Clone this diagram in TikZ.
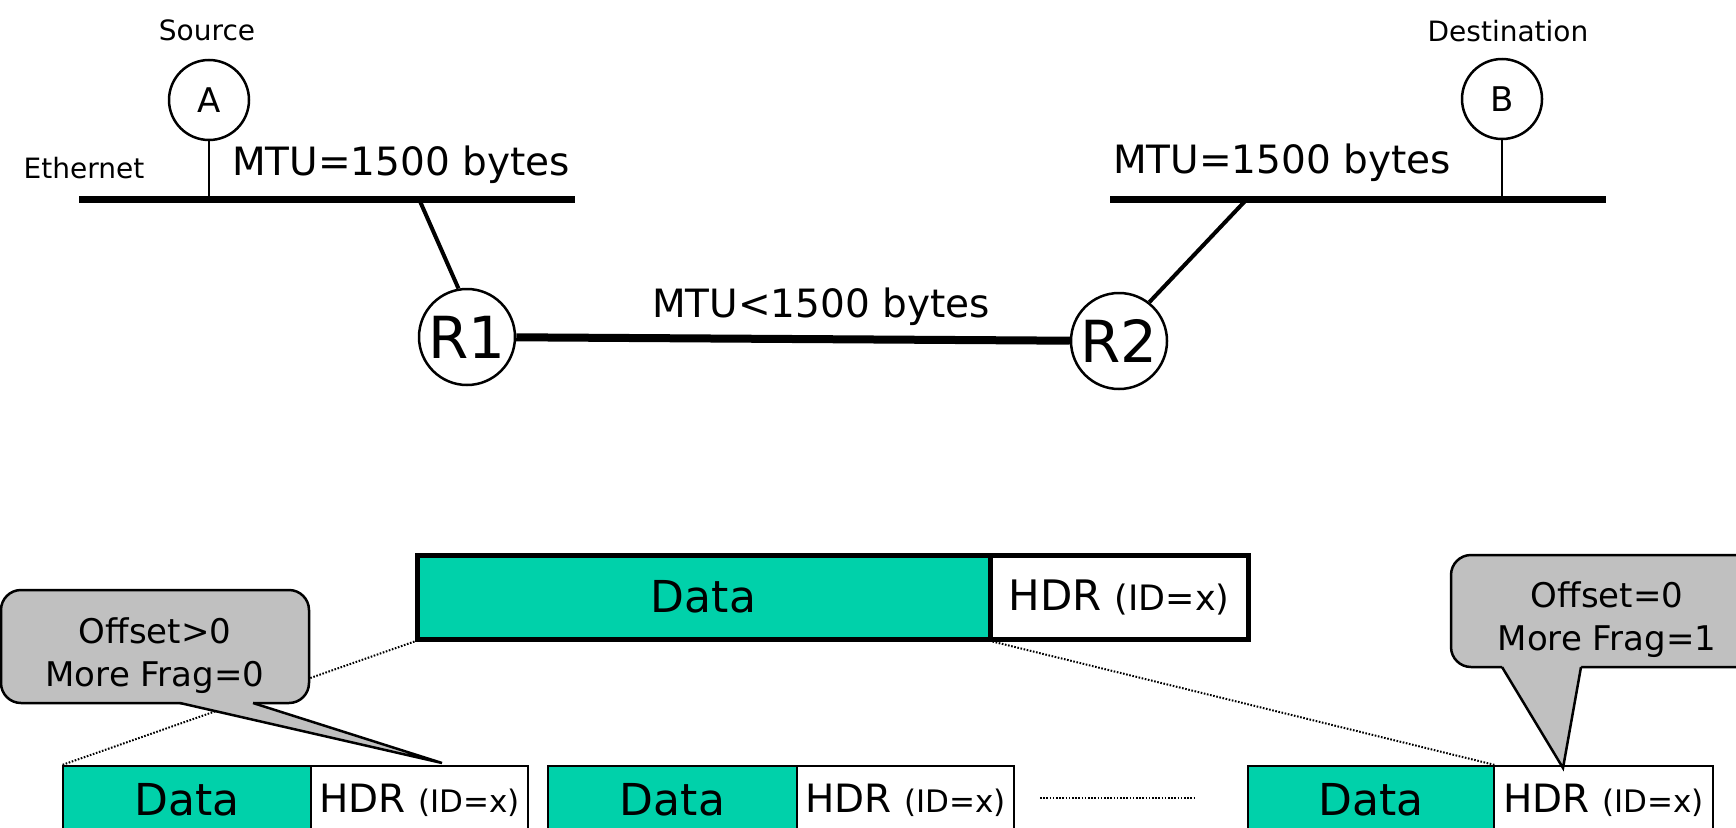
\documentclass[tikz,border=0pt]{standalone}
\usepackage{fontspec}
\setmainfont{DejaVu Sans}
\definecolor{payload}{RGB}{0,209,170}
\definecolor{balloon}{RGB}{192,192,192}
\newcommand{\fsz}[2][1.2]{\fontsize{#2}{#1\dimexpr #2pt\relax}\selectfont}
\begin{document}
\begin{tikzpicture}[x=1pt,y=-1pt,
  host/.style={circle,draw,line width=2.5pt,minimum size=80pt,inner sep=0pt,font=\fsz{34}},
  router/.style={circle,draw,line width=2.5pt,minimum size=96pt,inner sep=0pt,font=\fsz{58}},
  lbl/.style={anchor=base,inner sep=0pt},
  small/.style={lbl,font=\fsz{28}},
  mtu/.style={lbl,font=\fsz{39}},
  bus/.style={line width=7pt},
  link/.style={line width=4pt},
  stem/.style={line width=2pt},
  cell/.style={rectangle,inner sep=0pt,font=\fsz{44}},
  bigcell/.style={cell,draw,line width=5pt,minimum height=84pt},
  fragcell/.style={cell,draw,line width=2pt,minimum height=68pt},
  guide/.style={line width=2pt,dash pattern=on 1.6pt off 1.6pt},
  balloonline/.style={draw,line width=2.5pt},
  note/.style={align=center,inner sep=0pt,font=\fontsize{34}{43}\selectfont},
]
\useasboundingbox (0,0) rectangle (1736,827);
\clip (0,0) rectangle (1736,827);

% ---------- network ----------
\node[small] (src) at (207,40) {Source};
\node[small] (dst) at (1508,41) {Destination};
\node[small] (eth) at (84,178) {Ethernet};

\node[host] (A) at (209,100) {A};
\node[host] (B) at (1502,99) {B};

\coordinate (lanL1) at (79,199);
\coordinate (lanL2) at (575,199);
\coordinate (lanR1) at (1110,199);
\coordinate (lanR2) at (1606,199);
\draw[bus] (lanL1) -- (lanL2);
\draw[bus] (lanR1) -- (lanR2);

\draw[stem] (A.south) -- (A.south |- lanL1);
\draw[stem] (B.south) -- (B.south |- lanR1);

\node[mtu] (mtuL) at (401,175) {MTU=1500 bytes};
\node[mtu] (mtuR) at (1282,173) {MTU=1500 bytes};

\node[router] (R1) at (467,337) {R1};
\node[router] (R2) at (1119,341) {R2};

\coordinate (tapL) at (419,199);
\coordinate (tapR) at (1247,199);
\draw[link] (tapL) -- (R1.100);
\draw[link] (tapR) -- (R2.52);
\draw[line width=8pt] (R1) -- (R2);

\node[mtu] (mtuM) at (821,317) {MTU<1500 bytes};

% ---------- original packet ----------
\node[bigcell,fill=payload,minimum width=573pt] (pd) at (703.5,597) {Data};
\node[bigcell,fill=white,minimum width=258pt] (ph) at (1119,597)
  {\fsz{42}HDR {\fsz{35}(ID=x)}};

% ---------- fragments ----------
\node[fragcell,fill=payload,minimum width=248pt] (f1d) at (187,800) {Data};
\node[fragcell,fill=white,minimum width=217pt] (f1h) at (419.5,800)
  {\fsz{39}HDR {\fsz{31}(ID=x)}};
\node[fragcell,fill=payload,minimum width=249pt] (f2d) at (672.5,800) {Data};
\node[fragcell,fill=white,minimum width=217pt] (f2h) at (905.5,800)
  {\fsz{39}HDR {\fsz{31}(ID=x)}};
\node[fragcell,fill=payload,minimum width=246pt] (f3d) at (1371,800) {Data};
\node[fragcell,fill=white,minimum width=219pt] (f3h) at (1603.5,800)
  {\fsz{39}HDR {\fsz{31}(ID=x)}};

\coordinate (gap1) at (1040,798);
\coordinate (gap2) at (1196,798);
\draw[guide] (gap1) -- (gap2);

\draw[guide] (pd.south west) -- (f1d.north west);
\draw[guide] (pd.south east) -- (f3d.north east);

% ---------- callouts ----------
\draw[balloonline,fill=balloon,rounded corners=20pt] (1,590) rectangle (309,703);
\fill[balloon] (180,699) -- (180,703) -- (442,763) -- (253,703) -- (253,699) -- cycle;
\draw[line width=2.5pt,line join=miter] (180,703) -- (442,763) -- (253,703);
\node[note] (noteL) at (155,656) {Offset>0\\More Frag=0};

\draw[balloonline,fill=balloon,rounded corners=20pt] (1451,555) rectangle (1790,667);
\fill[balloon] (1502,663) -- (1502,667) -- (1563,768) -- (1581,667) -- (1581,663) -- cycle;
\draw[line width=2.5pt,line join=miter] (1502,667) -- (1563,768) -- (1581,667);
\node[note] (noteR) at (1607,620) {Offset=0\\More Frag=1};
\end{tikzpicture}
\end{document}
